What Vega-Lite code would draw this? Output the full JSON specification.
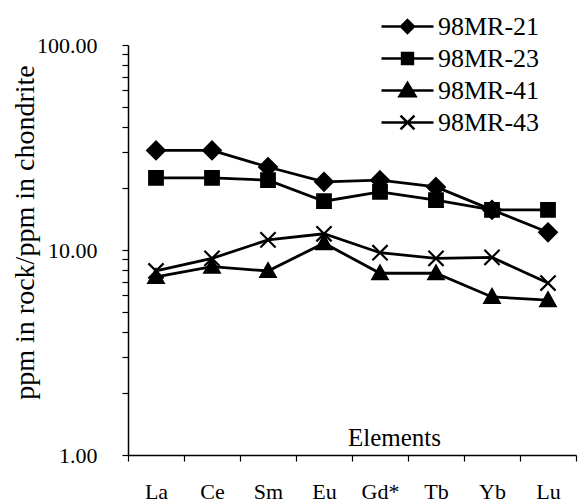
{
  "$schema": "https://vega.github.io/schema/vega-lite/v6.json",
  "autosize": "none",
  "width": 448,
  "height": 410,
  "padding": {"left": 128, "top": 45, "right": 3, "bottom": 48},
  "background": "white",
  "config": {
    "view": {"stroke": null},
    "font": "Liberation Serif",
    "axis": {"grid": false, "domainColor": "black", "tickColor": "black", "labelColor": "black", "titleColor": "black", "labelFont": "Liberation Serif", "titleFont": "Liberation Serif", "titleFontWeight": "normal", "domainWidth": 1.5, "tickWidth": 1.2},
    "legend": {"labelFont": "Liberation Serif"}
  },
  "data": {
    "values": [
      {"element": "La", "sample": "98MR-21", "value": 30.6},
      {"element": "Ce", "sample": "98MR-21", "value": 30.6},
      {"element": "Sm", "sample": "98MR-21", "value": 25.4},
      {"element": "Eu", "sample": "98MR-21", "value": 21.5},
      {"element": "Gd*", "sample": "98MR-21", "value": 21.9},
      {"element": "Tb", "sample": "98MR-21", "value": 20.3},
      {"element": "Yb", "sample": "98MR-21", "value": 15.7},
      {"element": "Lu", "sample": "98MR-21", "value": 12.2},
      {"element": "La", "sample": "98MR-23", "value": 22.5},
      {"element": "Ce", "sample": "98MR-23", "value": 22.5},
      {"element": "Sm", "sample": "98MR-23", "value": 21.9},
      {"element": "Eu", "sample": "98MR-23", "value": 17.3},
      {"element": "Gd*", "sample": "98MR-23", "value": 19.2},
      {"element": "Tb", "sample": "98MR-23", "value": 17.5},
      {"element": "Yb", "sample": "98MR-23", "value": 15.7},
      {"element": "Lu", "sample": "98MR-23", "value": 15.7},
      {"element": "La", "sample": "98MR-41", "value": 7.4},
      {"element": "Ce", "sample": "98MR-41", "value": 8.3},
      {"element": "Sm", "sample": "98MR-41", "value": 7.9},
      {"element": "Eu", "sample": "98MR-41", "value": 10.8},
      {"element": "Gd*", "sample": "98MR-41", "value": 7.7},
      {"element": "Tb", "sample": "98MR-41", "value": 7.7},
      {"element": "Yb", "sample": "98MR-41", "value": 5.9},
      {"element": "Lu", "sample": "98MR-41", "value": 5.7},
      {"element": "La", "sample": "98MR-43", "value": 7.9},
      {"element": "Ce", "sample": "98MR-43", "value": 9.1},
      {"element": "Sm", "sample": "98MR-43", "value": 11.2},
      {"element": "Eu", "sample": "98MR-43", "value": 12.0},
      {"element": "Gd*", "sample": "98MR-43", "value": 9.7},
      {"element": "Tb", "sample": "98MR-43", "value": 9.1},
      {"element": "Yb", "sample": "98MR-43", "value": 9.2},
      {"element": "Lu", "sample": "98MR-43", "value": 6.9}
    ]
  },
  "encoding": {
    "x": {
      "field": "element", "type": "nominal",
      "scale": {"type": "band", "domain": ["La", "Ce", "Sm", "Eu", "Gd*", "Tb", "Yb", "Lu"], "paddingInner": 0, "paddingOuter": 0},
      "axis": {"title": "Elements", "titleX": 266, "titleY": -18, "titleBaseline": "middle", "titleFontSize": 25, "labelAngle": 0, "labelFontSize": 22, "tickBand": "extent", "tickSize": 6, "labelPadding": 20}
    },
    "y": {
      "field": "value", "type": "quantitative",
      "scale": {"type": "log", "domain": [1, 100], "nice": false},
      "axis": {"title": "ppm in rock/ppm in chondrite", "titleFontSize": 28, "titleAngle": -90, "titleX": -103, "titleY": 187, "titleAlign": "center", "titleBaseline": "middle", "values": [1, 2, 3, 4, 5, 6, 7, 8, 9, 10, 20, 30, 40, 50, 60, 70, 80, 90, 100], "labelExpr": "(datum.value == 1 || datum.value == 10 || datum.value == 100) ? format(datum.value, '.2f') : ''", "labelFontSize": 22, "tickSize": 6, "labelPadding": 25}
    }
  },
  "resolve": {"scale": {"shape": "independent"}},
  "layer": [
    {
      "mark": {"type": "line", "color": "black", "strokeWidth": 2.8},
      "encoding": {"detail": {"field": "sample"}}
    },
    {
      "mark": {"type": "point", "filled": true, "fill": "black", "stroke": "black", "strokeWidth": 2.2, "opacity": 1, "size": 256},
      "encoding": {
        "shape": {
          "field": "sample", "type": "nominal",
          "scale": {"domain": ["98MR-21", "98MR-23", "98MR-41", "98MR-43"], "range": ["M0,-1.1L1.1,0L0,1.1L-1.1,0Z", "M-0.85,-0.85H0.85V0.85H-0.85Z", "M0,-0.95L0.95,0.75H-0.95Z", "M-0.95,-0.95L0.95,0.95M-0.95,0.95L0.95,-0.95"]},
          "legend": null
        }
      }
    },
    {
      "mark": {"type": "point", "filled": false, "fill": "black", "stroke": "black", "strokeWidth": 2.5, "opacity": 0, "size": 1156},
      "encoding": {
        "shape": {
          "field": "sample", "type": "nominal",
          "scale": {"domain": ["98MR-21", "98MR-23", "98MR-41", "98MR-43"], "range": ["M-1.53,0L1.53,0M0,-0.38L0.38,0L0,0.38L-0.38,0Z", "M-1.53,0L1.53,0M-0.32,-0.32H0.32V0.32H-0.32Z", "M-1.53,0L1.53,0M0,-0.45L0.47,0.34H-0.47Z", "M-1.53,0L1.53,0M-0.41,-0.41L0.41,0.41M-0.41,0.41L0.41,-0.41"]},
          "legend": {
            "title": null, "orient": "none", "legendX": 261, "legendY": -37,
            "labelFontSize": 26, "labelColor": "black", "labelOffset": 12,
            "symbolSize": 1156, "symbolOpacity": 1, "symbolStrokeWidth": 2.5, "rowPadding": 0, "padding": 0
          }
        }
      }
    }
  ]
}
